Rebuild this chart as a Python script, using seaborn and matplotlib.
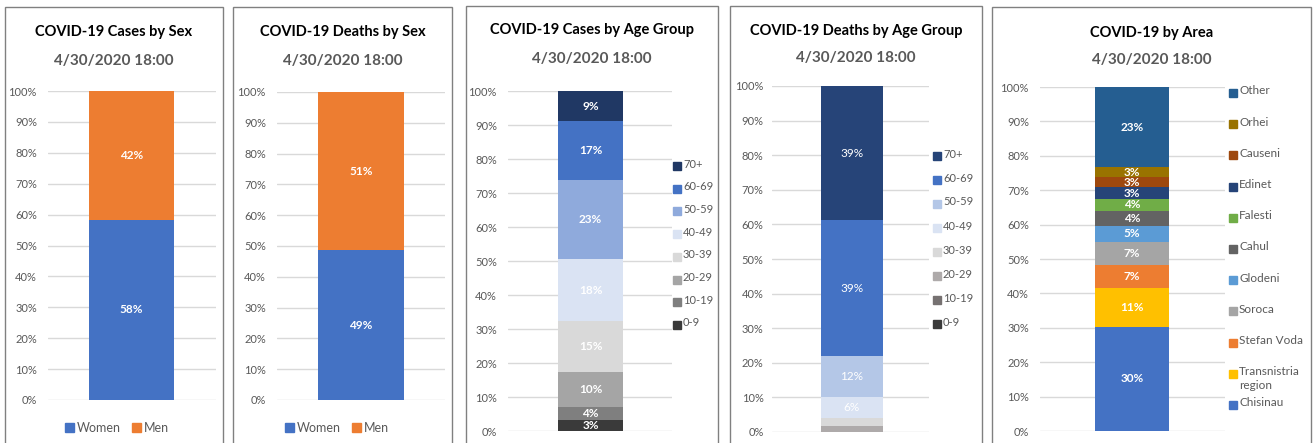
import numpy as np
import pandas as pd
import seaborn as sns
import matplotlib.pyplot as plt

from matplotlib.patches import Rectangle
from matplotlib.ticker import MultipleLocator, PercentFormatter

# ---- data (percent shares, bottom segment first) ----
sex_groups = ["Women", "Men"]
cases_by_sex = [58.3, 41.7]
deaths_by_sex = [48.6, 51.4]
sex_colors = ["#4472C4", "#ED7D31"]

age_groups = ["0-9", "10-19", "20-29", "30-39", "40-49", "50-59", "60-69", "70+"]
cases_by_age = [3.2, 4.0, 10.1, 15.0, 18.3, 23.4, 17.4, 8.6]
deaths_by_age = [0.0, 0.0, 1.6, 2.5, 5.9, 12.0, 39.2, 38.8]
cases_age_colors = ["#3A3A3A", "#7F7F7F", "#A5A5A5", "#D9D9D9",
                    "#DAE3F3", "#8FAADC", "#4472C4", "#203864"]
deaths_age_colors = ["#3A3A3A", "#767171", "#AEAAAA", "#D9D9D9",
                     "#DAE3F3", "#B4C7E7", "#4472C4", "#264478"]

areas = ["Chisinau", "Transnistria\nregion", "Stefan Voda", "Soroca", "Glodeni",
         "Cahul", "Falesti", "Edinet", "Causeni", "Orhei", "Other"]
area_share = [30.3, 11.4, 6.7, 6.6, 4.6, 4.3, 3.6, 3.3, 3.0, 2.9, 23.3]
area_colors = ["#4472C4", "#FFC000", "#ED7D31", "#A5A5A5", "#5B9BD5", "#636363",
               "#70AD47", "#264478", "#9E480E", "#997300", "#255E91"]

subtitle = "4/30/2020 18:00"

W, H = 1314, 443
GRAY_TXT = "#595959"
GRID = "#D9D9D9"

sns.set_theme(style="white")
plt.rcParams["font.family"] = ["Lato", "DejaVu Sans"]

fig = plt.figure(figsize=(W / 100, H / 100), dpi=100)
fig.patch.set_facecolor("white")


def fx(x):
    return x / W


def fy(y):
    return 1 - y / H


def panel_box(x0, x1, y0):
    fig.patches.append(Rectangle((fx(x0), fy(452)), fx(x1 - x0), (452 - y0) / H,
                                 transform=fig.transFigure, fill=False,
                                 edgecolor="#808080", linewidth=1.0, zorder=0))


def titles(x0, x1, title, ty, sy):
    cx = fx((x0 + x1) / 2)
    fig.text(cx, fy(ty), title, ha="center", va="center", fontsize=10.5,
             fontweight="bold", color="black")
    fig.text(cx, fy(sy), subtitle, ha="center", va="center", fontsize=11,
             fontweight="bold", color=GRAY_TXT)


def stacked_bar(ax_px, bar_px, groups, values, colors, label_min=0.0, bold=True, pad=8):
    x0, x1, ytop, ybot = ax_px
    ax = fig.add_axes([fx(x0), fy(ybot), fx(x1 - x0), (ybot - ytop) / H])
    df = pd.DataFrame({"group": groups, "share": values, "color": colors})
    df["top"] = df["share"].cumsum()

    # map pixel geometry to data units: one data unit == axes width
    bw = (bar_px[1] - bar_px[0]) / (x1 - x0)
    bc = (bar_px[0] + bar_px[1]) / 2
    # overlapping cumulative bars, tallest first
    for _, row in df.iloc[::-1].iterrows():
        sns.barplot(x=[0], y=[row["top"]], color=row["color"], saturation=1,
                    width=bw, ax=ax, linewidth=0, zorder=2)
    ax.set_xlim(-(bc - x0) / (x1 - x0), (x1 - bc) / (x1 - x0))
    ax.set_ylim(0, 100)
    ax.yaxis.set_major_locator(MultipleLocator(10))
    ax.yaxis.set_major_formatter(PercentFormatter(decimals=0))
    ax.grid(axis="y", color=GRID, linewidth=1, zorder=0)
    ax.set_axisbelow(True)
    ax.tick_params(axis="y", length=0, pad=pad, labelsize=8, labelcolor=GRAY_TXT)
    ax.set_xticks([])
    ax.set_xlabel("")
    ax.set_ylabel("")
    for side in ["top", "right", "left", "bottom"]:
        ax.spines[side].set_visible(False)
    ax.patch.set_alpha(0)

    for _, row in df.iterrows():
        if row["share"] > label_min:
            ax.text(0, row["top"] - row["share"] / 2, f"{row['share']:.0f}%",
                    ha="center", va="center", color="white", fontsize=8.5,
                    fontweight="bold" if bold else "normal", zorder=3)
    return ax


def side_legend(groups, colors, x, y_first, step, size=8):
    # entries listed top to bottom, last stacked segment first
    for i, (g, c) in enumerate(zip(groups[::-1], colors[::-1])):
        y = y_first + i * step
        fig.patches.append(Rectangle((fx(x), fy(y + 4)), fx(8), 8 / H,
                                     transform=fig.transFigure, color=c))
        fig.text(fx(x + 10), fy(y - 7.5), g, ha="left", va="top", fontsize=size,
                 color=GRAY_TXT, linespacing=1.25)


def bottom_legend(ax, colors, cx, y):
    handles = [Rectangle((0, 0), 1, 1, color=c) for c in colors]
    fig.legend(handles, sex_groups, loc="center", bbox_to_anchor=(fx(cx), fy(y)),
               ncol=2, frameon=False, fontsize=9, handlelength=0.7, handleheight=0.7,
               handletextpad=0.25, columnspacing=0.9, labelcolor=GRAY_TXT)


# panel 1: cases by sex
panel_box(5, 223, 7)
titles(5, 223, "COVID-19 Cases by Sex", 32, 61)
ax1 = stacked_bar((48, 216, 91, 400), (89, 174), sex_groups, cases_by_sex, sex_colors)
bottom_legend(ax1, sex_colors, 117, 428)

# panel 2: deaths by sex
panel_box(233, 452, 7)
titles(233, 452, "COVID-19 Deaths by Sex", 32, 61)
ax2 = stacked_bar((277, 445, 92, 400), (318, 404), sex_groups, deaths_by_sex, sex_colors)
bottom_legend(ax2, sex_colors, 337, 428)

# panel 3: cases by age group
panel_box(466, 718, 6)
titles(466, 718, "COVID-19 Cases by Age Group", 30, 59)
stacked_bar((508, 672, 91.5, 431), (558, 623), age_groups, cases_by_age, cases_age_colors)
side_legend(age_groups, cases_age_colors, 673, 166, 22.7)

# panel 4: deaths by age group
panel_box(730, 982, 6)
titles(730, 982, "COVID-19 Deaths by Age Group", 31, 58)
stacked_bar((772, 929, 86, 432), (821, 883), age_groups, deaths_by_age, deaths_age_colors,
            label_min=5, bold=False, pad=6)
side_legend(age_groups, deaths_age_colors, 933, 156, 24)

# panel 5: by area
panel_box(992, 1311, 7)
titles(992, 1311, "COVID-19 by Area", 33, 60)
stacked_bar((1040, 1225, 87, 431), (1095, 1169), areas, area_share, area_colors)
side_legend(areas, area_colors, 1229, 93, 31.2, size=8.5)

fig.savefig("out.png", dpi=100, facecolor="white")
